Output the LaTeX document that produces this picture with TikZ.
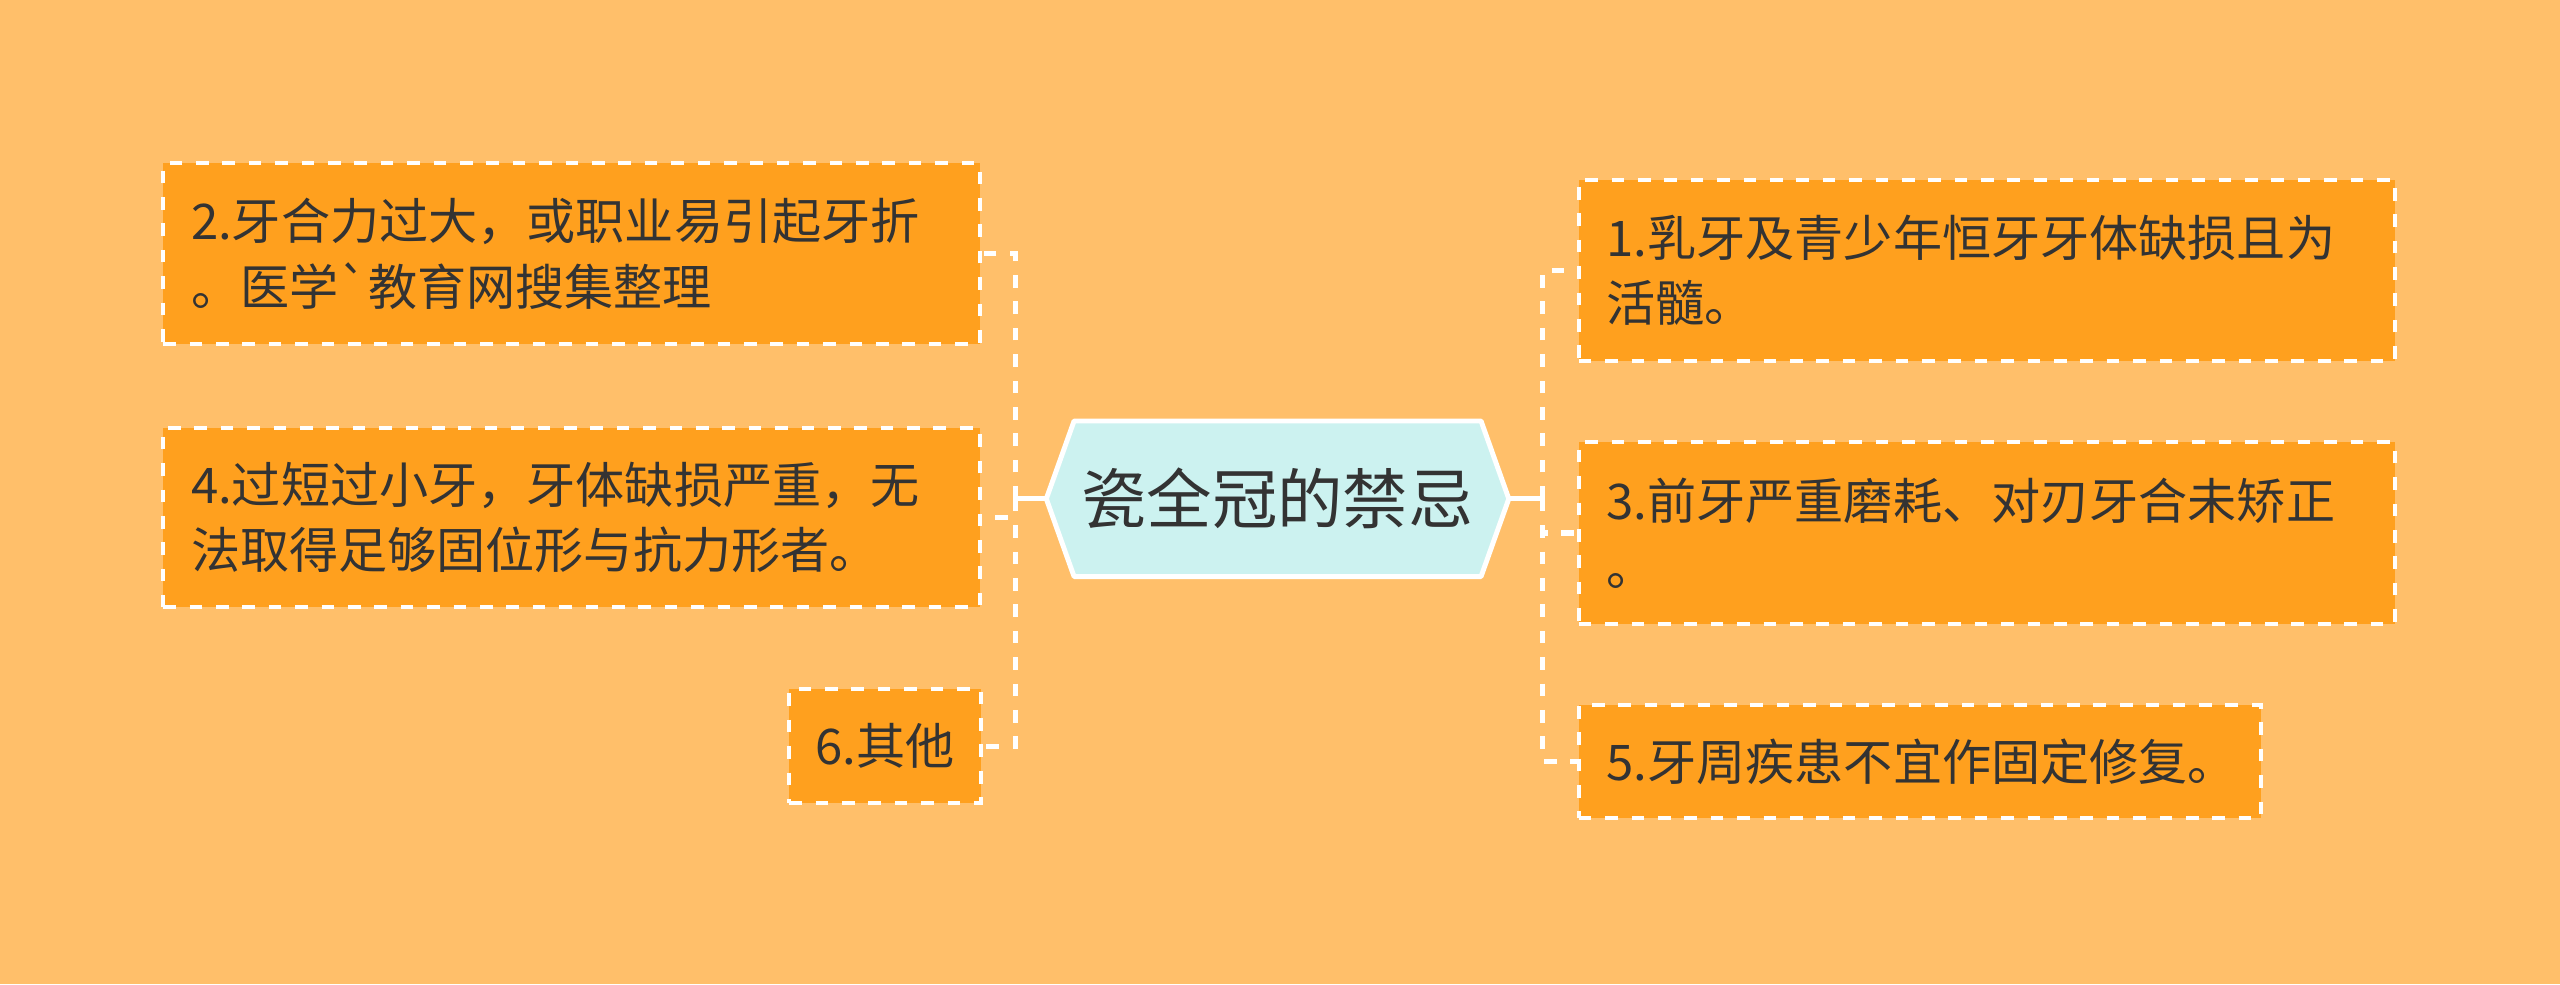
\documentclass[tikz,border=0pt]{standalone}
\usepackage{fontspec}
\setmainfont{Noto Sans CJK SC}
\usepackage{tikz}
\usetikzlibrary{calc,positioning}

\definecolor{bgorange}{RGB}{255,191,106}
\definecolor{boxorange}{RGB}{255,160,30}
\definecolor{rootcyan}{RGB}{204,242,240}
\definecolor{txtgray}{RGB}{51,51,51}

\tikzset{
  leaf/.style={fill=boxorange,draw=white,line width=3.5pt,dash pattern=on 11pt off 12pt,
    text=txtgray,font=\fontsize{42.8pt}{57pt}\selectfont,align=left,
    inner xsep=0.85cm,inner ysep=0pt},
  link/.style={white,line width=4.5pt,dash pattern=on 11pt off 12pt},
}

\begin{document}
\begin{tikzpicture}
  \fill[bgorange] (0,0) rectangle (78.4,30.15);
  \useasboundingbox (0,0) rectangle (78.4,30.15);
  % root
  \node[minimum width=14.15cm,minimum height=4.75cm,inner sep=0pt] (root) at (39.125,14.875) {};
  \draw[fill=rootcyan,draw=white,line width=4.3pt,line join=round] (root.west) -- ($(root.north west)+(0.85,0)$) -- ($(root.north east)-(0.85,0)$) -- (root.east) -- ($(root.south east)-(0.85,0)$) -- ($(root.south west)+(0.85,0)$) -- cycle;
  \node[text=txtgray,font=\fontsize{57pt}{62pt}\selectfont] at (root) {瓷全冠的禁忌};
  % left side
  \node[leaf,text width=23.3cm,minimum height=5.55cm] (b2) at (17.5,22.375) {2.牙合力过大，或职业易引起牙折\\。医学\textasciigrave 教育网搜集整理};
  \node[leaf,text width=23.3cm,minimum height=5.5cm] (b4) at (17.5,14.3) {4.过短过小牙，牙体缺损严重，无\\法取得足够固位形与抗力形者。};
  \node[leaf,inner xsep=0.8cm,minimum width=5.8cm,minimum height=3.5cm] (b6) at (27.1,7.3) {6.其他};
  % right side
  \node[leaf,text width=23.3cm,minimum height=5.55cm] (b1) at (60.85,21.875) {1.乳牙及青少年恒牙牙体缺损且为\\活髓。};
  \node[leaf,text width=23.3cm,minimum height=5.55cm] (b3) at (60.85,13.825) {3.前牙严重磨耗、对刃牙合未矫正\\。};
  \node[leaf,text width=19.2cm,minimum height=3.45cm] (b5) at (58.8,6.825) {5.牙周疾患不宜作固定修复。};
  % connectors
  \coordinate (lt) at (31.1,14.875);
  \coordinate (rt) at (47.25,14.875);
  \draw[white,line width=4pt] (root.west) -- (lt);
  \draw[white,line width=4pt] (root.east) -- (rt);
  \draw[link] (lt) |- (b2.east);
  \draw[link] (lt) |- (b4.east);
  \draw[link] (lt) |- (b6.east);
  \draw[link] (rt) |- (b1.west);
  \draw[link] (rt) |- (b3.west);
  \draw[link] (rt) |- (b5.west);
\end{tikzpicture}
\end{document}
